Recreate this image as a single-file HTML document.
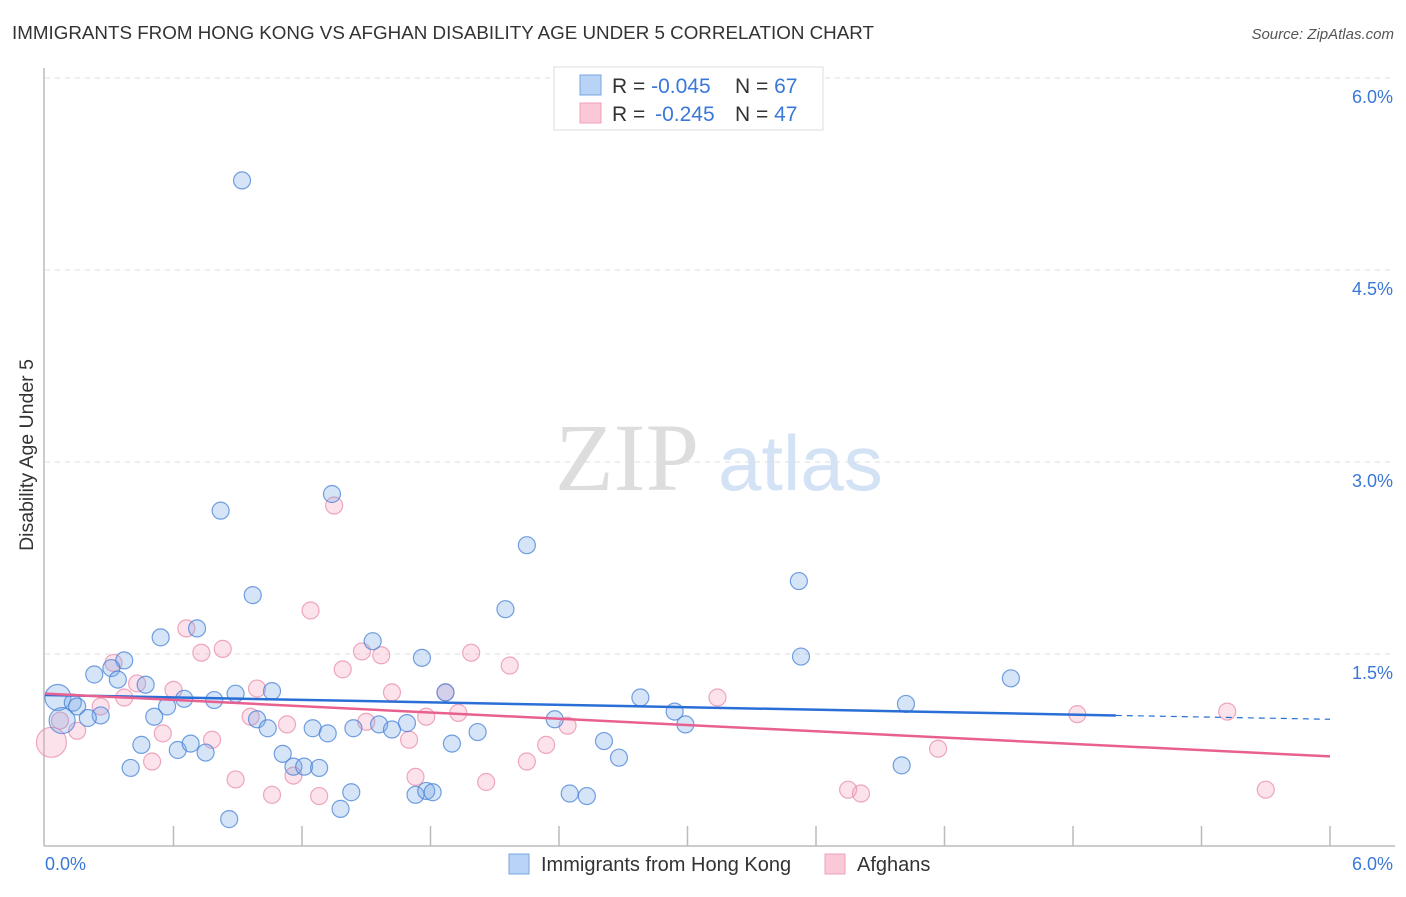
<!DOCTYPE html>
<html><head><meta charset="utf-8"><style>
body{margin:0;background:#fff;font-family:"Liberation Sans",sans-serif;}
</style></head><body>
<svg id="chart" width="1406" height="892" xmlns="http://www.w3.org/2000/svg" font-family="Liberation Sans, sans-serif">
<text x="12" y="39" font-size="18.8" fill="#333">IMMIGRANTS FROM HONG KONG VS AFGHAN DISABILITY AGE UNDER 5 CORRELATION CHART</text>
<text x="1394" y="39" font-size="15" fill="#555" font-style="italic" text-anchor="end">Source: ZipAtlas.com</text>
<g>
<text x="555" y="490" font-size="96" fill="#ddd" style="font-family:'Liberation Serif',serif">ZIP</text>
<text x="718" y="490" font-size="78" fill="#d3e2f4">atlas</text>
</g>
<text transform="translate(33,455) rotate(-90)" font-size="19.5" fill="#333" text-anchor="middle">Disability Age Under 5</text>
<g id="grid"></g><g id="axes"></g><g id="pts"></g><g id="trend"></g>
<g>
<rect x="554" y="67" width="269" height="63" fill="#fff" stroke="#ddd"/>
<rect x="580" y="75" width="21" height="20" fill="#b8d3f5" stroke="#7aa7e0"/>
<rect x="580" y="103" width="21" height="20" fill="#fbc8d8" stroke="#efa0b8"/>
<text x="612" y="93" font-size="21" fill="#333">R = <tspan fill="#3a78d8">-0.045</tspan><tspan x="735">N = </tspan><tspan fill="#3a78d8">67</tspan></text>
<text x="612" y="121" font-size="21" fill="#333">R = <tspan fill="#3a78d8" dx="4">-0.245</tspan><tspan x="735">N = </tspan><tspan fill="#3a78d8">47</tspan></text>
</g>
<g>
<rect x="509" y="854" width="20" height="20" fill="#b8d3f5" stroke="#7aa7e0"/>
<text x="541" y="871" font-size="20" fill="#333">Immigrants from Hong Kong</text>
<rect x="825" y="854" width="20" height="20" fill="#fbc8d8" stroke="#efa0b8"/>
<text x="857" y="871" font-size="20" fill="#333">Afghans</text>
</g>
</svg>
<script>
const yTicks=[1.5,3.0,4.5,6.0];
const xTickLabels=["0.0%","6.0%"];
const blueX=[0.92,0.82,1.34,2.25,3.52,0.97,2.15,0.54,0.71,1.53,0.37,1.76,3.53,4.51,0.23,0.31,0.34,0.47,0.06,0.13,0.15,0.65,0.89,1.06,0.79,0.57,1.87,2.78,2.94,4.02,0.51,0.26,0.20,0.08,0.99,1.04,1.25,1.44,1.56,1.69,1.62,1.32,2.02,2.38,2.99,0.45,0.62,0.68,0.75,1.90,2.61,2.68,1.11,1.16,1.21,1.28,0.40,4.00,1.43,1.73,1.78,1.81,2.45,2.53,1.38,0.86];
const blueY=[5.20,2.62,2.75,2.35,2.07,1.96,1.85,1.63,1.70,1.60,1.45,1.47,1.48,1.31,1.34,1.39,1.30,1.26,1.16,1.12,1.09,1.15,1.19,1.21,1.14,1.09,1.20,1.16,1.05,1.11,1.01,1.02,1.00,0.98,0.99,0.92,0.92,0.92,0.95,0.96,0.91,0.88,0.89,0.99,0.95,0.79,0.75,0.80,0.73,0.80,0.82,0.69,0.72,0.62,0.62,0.61,0.61,0.63,0.42,0.40,0.43,0.42,0.41,0.39,0.29,0.21];
const blueBig=[18,33];
const pinkX=[1.35,1.24,0.66,0.83,0.73,1.48,1.57,1.99,2.17,1.39,0.32,0.43,0.26,0.37,0.60,0.99,1.62,1.87,3.14,0.96,1.13,1.50,1.78,1.93,2.44,4.82,5.52,0.15,0.55,0.78,1.70,2.34,4.17,0.50,2.25,0.89,1.16,1.73,2.06,1.06,1.28,3.75,3.81,5.70,0.03,0.07];
const pinkY=[2.66,1.84,1.70,1.54,1.51,1.52,1.49,1.51,1.41,1.38,1.43,1.27,1.09,1.16,1.22,1.23,1.20,1.20,1.16,1.01,0.95,0.97,1.01,1.04,0.94,1.03,1.05,0.90,0.88,0.83,0.83,0.79,0.76,0.66,0.66,0.52,0.55,0.54,0.50,0.40,0.39,0.44,0.41,0.44,0.81,0.98];
const pinkBig=[44];
const blueTrend=[1.18,1.02,0.99];
const blueTrendX=[0,5.0,6.0];
const pinkTrend=[1.19,0.70];
const pinkTrendX=[0,6.0];

const NS="http://www.w3.org/2000/svg";
const sx=v=>45+v/6*1285;
const sy=v=>846-v/1.5*192;
function mk(tag,attrs,parent){const e=document.createElementNS(NS,tag);for(const k in attrs)e.setAttribute(k,attrs[k]);document.getElementById(parent).appendChild(e);return e;}
yTicks.forEach(t=>{
  const l=mk('line',{x1:45,x2:1395,y1:sy(t),y2:sy(t),stroke:'#ddd','stroke-dasharray':'5,5'},'grid');
  
  
  const tx=mk('text',{x:1393,y:sy(t)+25,'font-size':18,fill:'#3a78d8','text-anchor':'end'},'grid');
  tx.textContent=t.toFixed(1)+'%';
  
  
});
mk('line',{x1:44,x2:44,y1:68,y2:846,stroke:'#bbb','stroke-width':1.5},'axes');
mk('line',{x1:44,x2:1395,y1:846,y2:846,stroke:'#bbb','stroke-width':1.5},'axes');
for(let i=1;i<=10;i++){mk('line',{x1:sx(i*0.6),x2:sx(i*0.6),y1:826,y2:846,stroke:'#bbb','stroke-width':1.5},'axes');}
const xl0=mk('text',{x:45,y:870,'font-size':18,fill:'#3a78d8'},'axes');xl0.textContent=xTickLabels[0];


const xl1=mk('text',{x:1393,y:870,'font-size':18,fill:'#3a78d8','text-anchor':'end'},'axes');xl1.textContent=xTickLabels[1];



pinkX.forEach((x,i)=>{
  const c=mk('circle',{cx:sx(x),cy:sy(pinkY[i]),r:pinkBig.includes(i)?15:8.5,fill:'rgba(246,160,190,0.3)',stroke:'rgba(232,140,170,0.75)','stroke-width':1.2},'pts');
  
  
});
blueX.forEach((x,i)=>{
  const c=mk('circle',{cx:sx(x),cy:sy(blueY[i]),r:blueBig.includes(i)?13:8.5,fill:'rgba(120,165,230,0.3)',stroke:'rgba(70,130,215,0.75)','stroke-width':1.2},'pts');
  
  
});
const bt=mk('line',{x1:sx(blueTrendX[0]),y1:sy(blueTrend[0]),x2:sx(blueTrendX[1]),y2:sy(blueTrend[1]),stroke:'#2a6fd6','stroke-width':2.5},'trend');


const bd=mk('line',{x1:sx(blueTrendX[1]),y1:sy(blueTrend[1]),x2:sx(blueTrendX[2]),y2:sy(blueTrend[2]),stroke:'#2a6fd6','stroke-width':1.2,'stroke-dasharray':'6,5'},'trend');


const pt=mk('line',{x1:sx(pinkTrendX[0]),y1:sy(pinkTrend[0]),x2:sx(pinkTrendX[1]),y2:sy(pinkTrend[1]),stroke:'#e8608f','stroke-width':2.5},'trend');


</script>
</body></html>
